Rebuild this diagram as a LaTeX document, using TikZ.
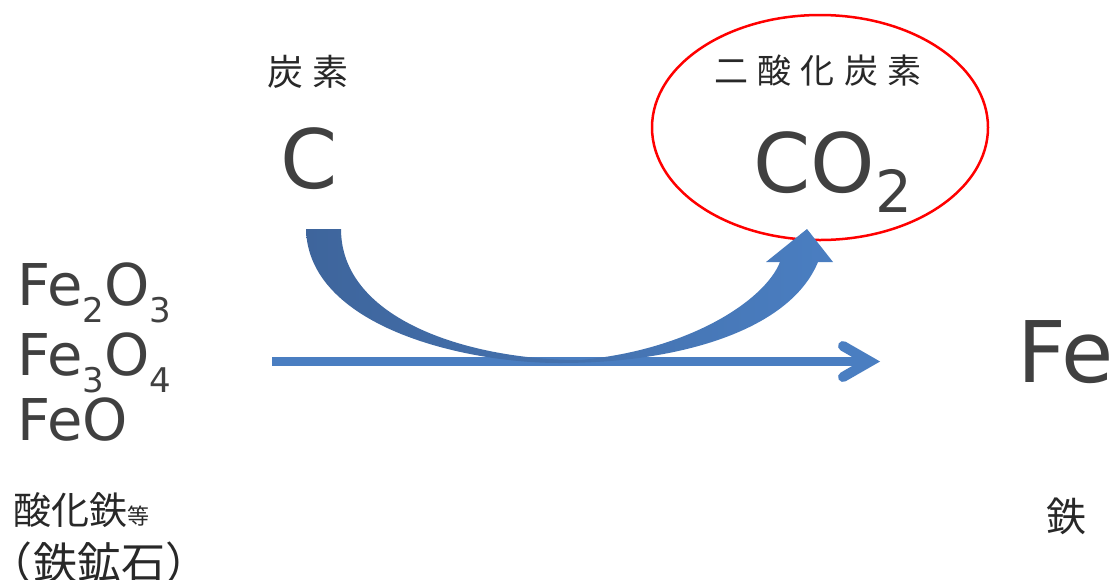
\documentclass[tikz,border=0pt]{standalone}
\usepackage{fontspec}
\setmainfont{DejaVu Sans}
\newfontfamily\jp{Noto Sans CJK JP}
\usetikzlibrary{shapes.geometric}
\definecolor{arrowblue}{RGB}{74,126,193}
\definecolor{darkblue}{RGB}{62,101,156}
\definecolor{txtgray}{RGB}{64,64,64}
\definecolor{jptxt}{RGB}{40,40,40}
\newcommand\fs[1]{\fontsize{#1}{#1}\selectfont}
\newcommand\chsub[3]{\smash{\raisebox{-#2pt}{\fs{#1}#3}}}
\newcommand\jg{\hspace{9.5pt}}
\begin{document}
\begin{tikzpicture}[x=1pt,y=-1pt,
  lbl/.style={inner sep=0, outer sep=0, text=txtgray},
  jlbl/.style={inner sep=0, outer sep=0, text=jptxt},
  ring/.style={draw=red, line width=2.5pt, ellipse, inner sep=0,
    minimum width=336pt, minimum height=225pt},
  mainline/.style={draw=arrowblue, line width=9pt},
  headline/.style={draw=arrowblue, line width=10pt, line cap=round, line join=miter}]
\useasboundingbox (0,0) rectangle (1115,579);

% texts
\node[jlbl, font=\jp\fs{36}] (tanso) at (307.5,71.5) {炭\hspace{9pt}素};
\node[lbl, anchor=base west, font=\fs{82}] (c) at (280.5,188) {C};
\node[jlbl, font=\jp\fs{34}] (nisanka) at (818,71) {二\jg 酸\jg 化\jg 炭\jg 素};
\node[lbl, anchor=base west, font=\fs{82}] (co2) at (753.5,192) {CO\chsub{58}{20}{2}};
\node[ring] (ringnode) at (820,127.5) {};

\node[lbl, anchor=base west, font=\fs{57.6}] (fe2o3) at (17,305) {Fe\chsub{34}{17}{2}O\chsub{34}{17}{3}};
\node[lbl, anchor=base west, font=\fs{57.6}] (fe3o4) at (17,375) {Fe\chsub{34}{17}{3}O\chsub{34}{17}{4}};
\node[lbl, anchor=base west, font=\fs{57.6}] (feo) at (17,440) {FeO};
\node[jlbl, anchor=base west, font=\jp\fs{38}] (sanka) at (13,524) {酸化鉄{\fs{22}等}};
\node[jlbl, anchor=base west, font=\jp\fs{44}] (kouseki) at (-11,579.5) {（鉄鉱石）};

\node[lbl, anchor=base west, font=\fs{85}] (fe) at (1017,382) {Fe};
\node[jlbl, font=\jp\fs{40}] (tetsu) at (1066,516.5) {鉄};

% horizontal arrow
\coordinate (hs) at (272,361.5);
\coordinate (ht) at (870,361.5);
\coordinate (ha1) at (843,346);
\coordinate (ha2) at (843,377);
\draw[mainline] (hs) -- (ht);
\draw[headline] (ha1) -- (ht) -- (ha2);

% curved arrow
\shade[left color=darkblue, right color=arrowblue]
  (306,229) .. controls (308,325) and (460,363) .. (560,363)
  .. controls (680,363) and (790,330) .. (818,262)
  -- (833,262) -- (807,229) -- (766,262) -- (780,262)
  .. controls (765,300) and (690,350) .. (580,360)
  .. controls (470,360) and (341,320) .. (341,229) -- cycle;
\end{tikzpicture}
\end{document}
